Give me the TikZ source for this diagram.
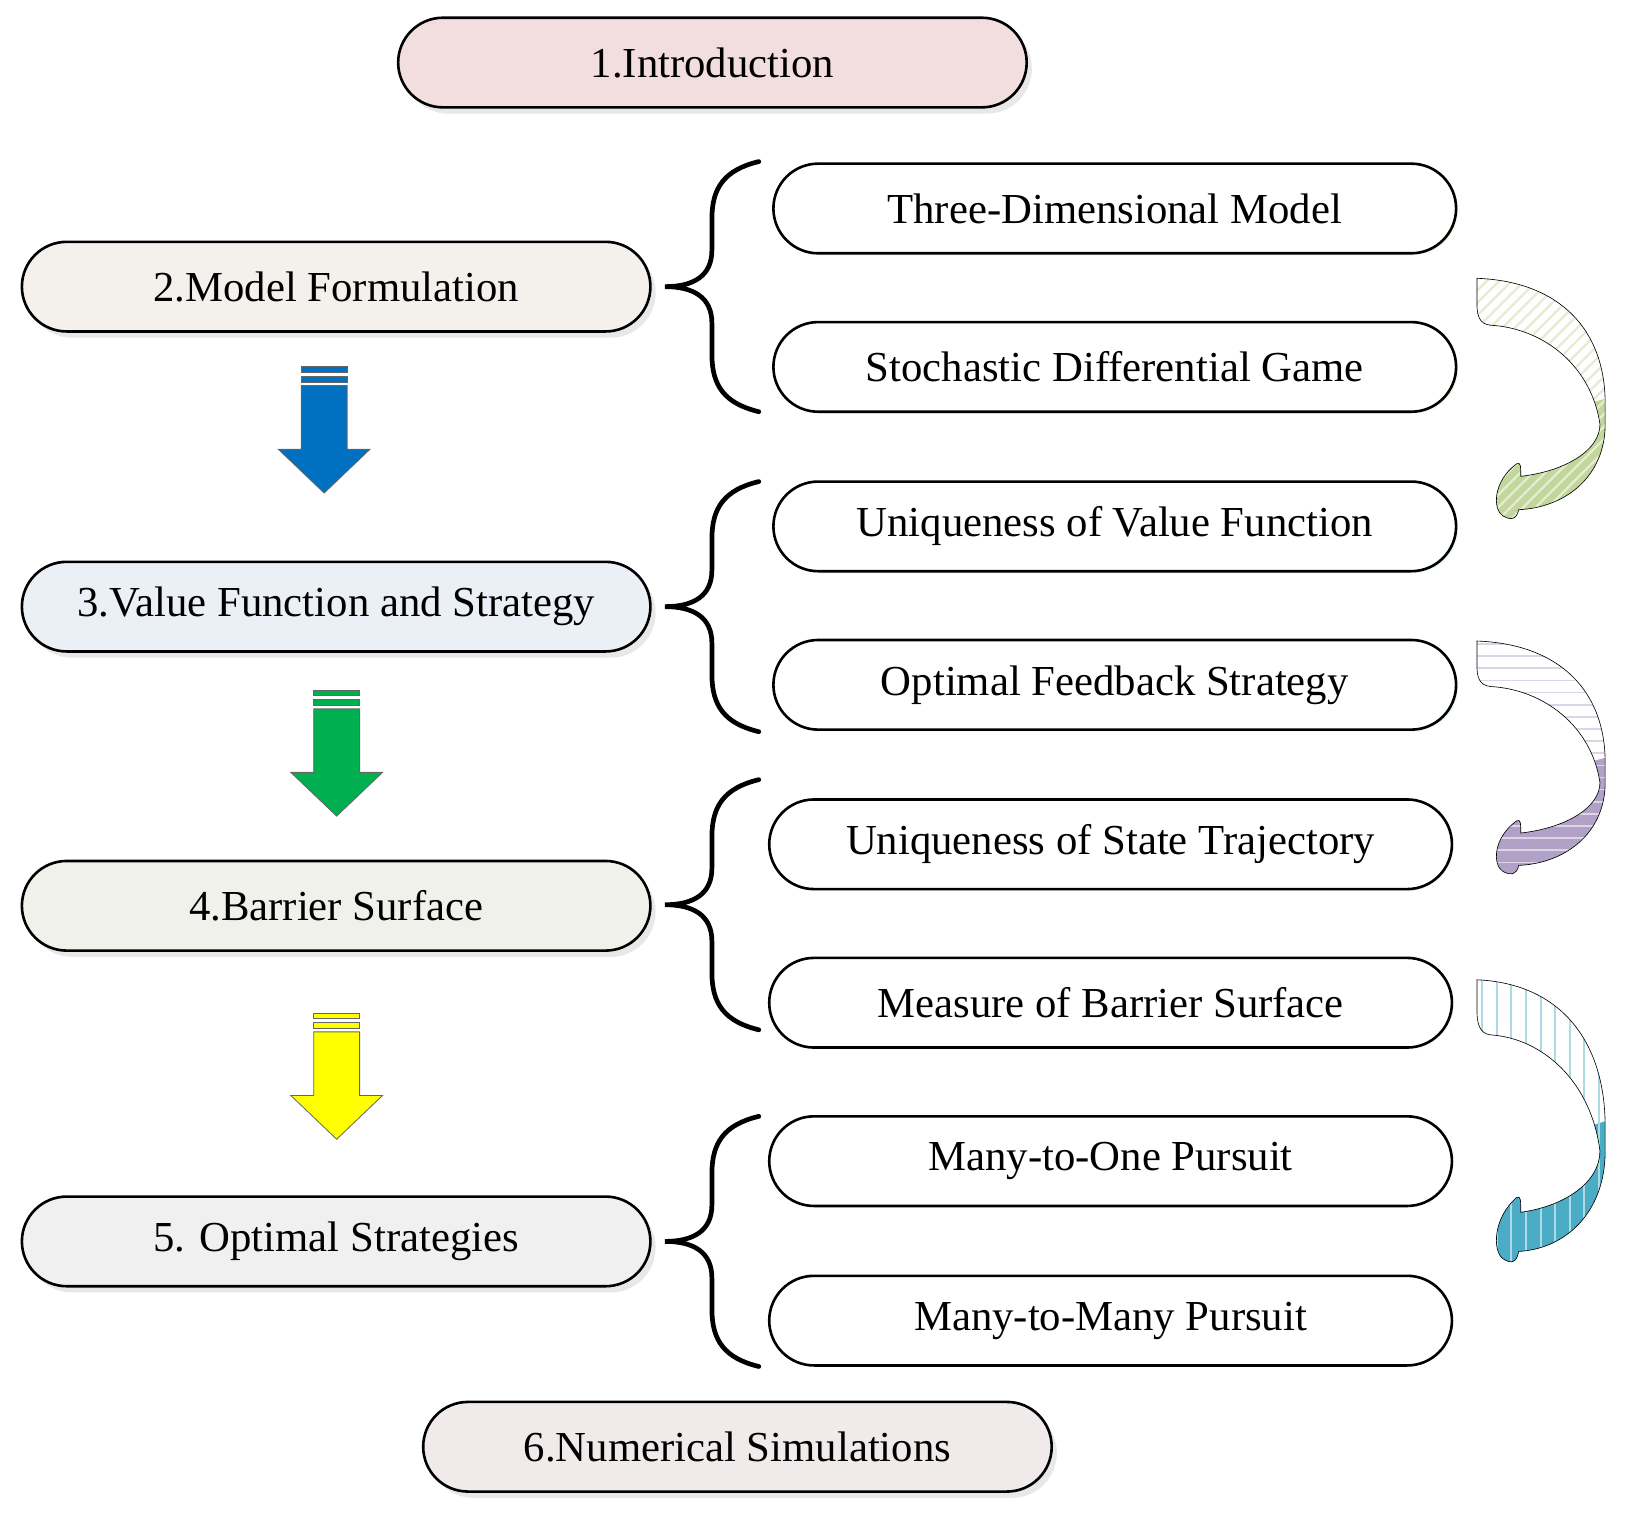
\documentclass[tikz,border=0pt]{standalone}
\usepackage{fontspec}
\setmainfont{Liberation Serif}
\usetikzlibrary{shadows}
\definecolor{cpink}{RGB}{242,222,222}
\definecolor{cbeige}{RGB}{244,241,236}
\definecolor{cblue}{RGB}{234,240,245}
\definecolor{cgray1}{RGB}{241,241,236}
\definecolor{cgray2}{RGB}{240,240,240}
\definecolor{cpink2}{RGB}{241,234,234}
\definecolor{abl}{RGB}{0,112,192}
\definecolor{agr}{RGB}{0,176,80}
\definecolor{aye}{RGB}{255,255,0}
\definecolor{cgreen}{RGB}{195,214,155}
\definecolor{cpurp}{RGB}{178,161,199}
\definecolor{cteal}{RGB}{75,172,198}
\begin{document}
\begin{tikzpicture}[x=1pt,y=-1pt,
 box/.style={draw=black,line width=2.5pt,rectangle,rounded corners=43pt,minimum width=603pt,minimum height=86pt,
   font=\fontsize{41}{48}\selectfont,inner sep=0pt,
   drop shadow={shadow xshift=5pt,shadow yshift=-6pt,opacity=0.18,fill=gray}},
 rbox/.style={draw=black,line width=2.5pt,rectangle,rounded corners=43pt,minimum width=655pt,minimum height=86pt,
   font=\fontsize{41}{48}\selectfont,fill=white,inner sep=0pt},
 glowo/.style={drop shadow={shadow xshift=2pt,shadow yshift=-2pt,opacity=0.35,fill=orange!25}},
 glowb/.style={drop shadow={shadow xshift=2pt,shadow yshift=-2pt,opacity=0.45,fill=cyan!20}},
 glowg/.style={drop shadow={shadow xshift=2pt,shadow yshift=-2pt,opacity=0.4,fill=green!15}},
 brace/.style={line width=4.5pt,line cap=round},
 barrow/.style={draw=black!60,line width=0.8pt}]
\useasboundingbox (0,0) rectangle (1560,1452);

\node[box,fill=cpink] (i1) at (683.5,60) {1.Introduction};
\node[box,fill=cbeige] (m2) at (322.5,275) {2.Model Formulation};
\node[box,fill=cblue] (m3) at (322.5,582) {3.Value Function and Strategy};
\node[box,fill=cgray1] (m4) at (322.5,869) {4.Barrier Surface};
\node[box,fill=cgray2] (m5) at (322.5,1191) {5. Optimal Strategies};
\node[box,fill=cpink2] (m6) at (707.5,1388) {6.Numerical Simulations};

\node[rbox,glowo] (r1) at (1069.5,200) {Three-Dimensional Model};
\node[rbox,glowo] (r2) at (1069.5,352) {Stochastic Differential Game};
\node[rbox,glowb] (r3) at (1069.5,505) {Uniqueness of Value Function};
\node[rbox,glowb] (r4) at (1069.5,657) {Optimal Feedback Strategy};
\node[rbox,glowg] (r5) at (1065.5,810) {Uniqueness of State Trajectory};
\node[rbox,glowg] (r6) at (1065.5,962) {Measure of Barrier Surface};
\node[rbox] (r7) at (1065.5,1114) {Many-to-One Pursuit};
\node[rbox] (r8) at (1065.5,1267) {Many-to-Many Pursuit};

% braces
\foreach \yc in {275,582,868,1191}{
 \draw[brace] (728,\yc-120) .. controls (695,\yc-112) and (683,\yc-95) .. (683,\yc-65) -- (683,\yc-35)
   .. controls (683,\yc-10) and (665,\yc) .. (638,\yc)
   .. controls (665,\yc) and (683,\yc+10) .. (683,\yc+35) -- (683,\yc+65)
   .. controls (683,\yc+95) and (695,\yc+112) .. (728,\yc+120);
}

% block arrows
\foreach \xc/\top/\col in {311/352/abl,323/662/agr,323/972/aye}{
 \fill[\col,barrow] (\xc-22,\top) rectangle (\xc+22,\top+5);
 \fill[\col,barrow] (\xc-22,\top+9) rectangle (\xc+22,\top+15);
 \fill[\col,barrow] (\xc-22,\top+18) -- (\xc+22,\top+18) -- (\xc+22,\top+79) -- (\xc+44,\top+79)
   -- (\xc,\top+121) -- (\xc-44,\top+79) -- (\xc-22,\top+79) -- cycle;
}

% curved arrows
\foreach \yo/\h/\col/\typ in {267/230/cgreen/1,615/223/cpurp/2,940/270/cteal/3}{
 \begin{scope}[shift={(1417,\yo)},yscale=\h/230]
  \path[save path=\cpath] (0,0) .. controls (80,3) and (123,50) .. (123,120) -- (123,140)
    .. controls (123,190) and (85,220) .. (40,222) .. controls (38,232) and (32,232) .. (25,228)
    .. controls (15,222) and (15,195) .. (38,178) .. controls (42,176) and (42,180) .. (42,190)
    .. controls (85,185) and (118,165) .. (118,140) .. controls (110,85) and (65,48) .. (13,45)
    .. controls (2,44) and (0,35) .. (0,25) -- cycle;
  \fill[white,use path=\cpath];
  \begin{scope}
   \clip[use path=\cpath];
   \fill[\col] (0,150) -- (125,115) -- (130,240) -- (0,240) -- cycle;
   \ifnum\typ=1
     \foreach \k in {-240,-228,...,130}{\draw[\col!45!white,line width=2.2pt] (\k,240) -- (\k+240,0);}
   \fi
   \ifnum\typ=2
     \foreach \k in {3,15,...,240}{\draw[\col!45!white,line width=1.6pt] (0,\k) -- (130,\k);}
   \fi
   \ifnum\typ=3
     \foreach \k in {5,19,...,130}{\draw[\col!45!white,line width=2pt] (\k,0) -- (\k,240);}
   \fi
  \end{scope}
  \draw[line width=0.6pt,use path=\cpath];
 \end{scope}
}
\end{tikzpicture}
\end{document}
